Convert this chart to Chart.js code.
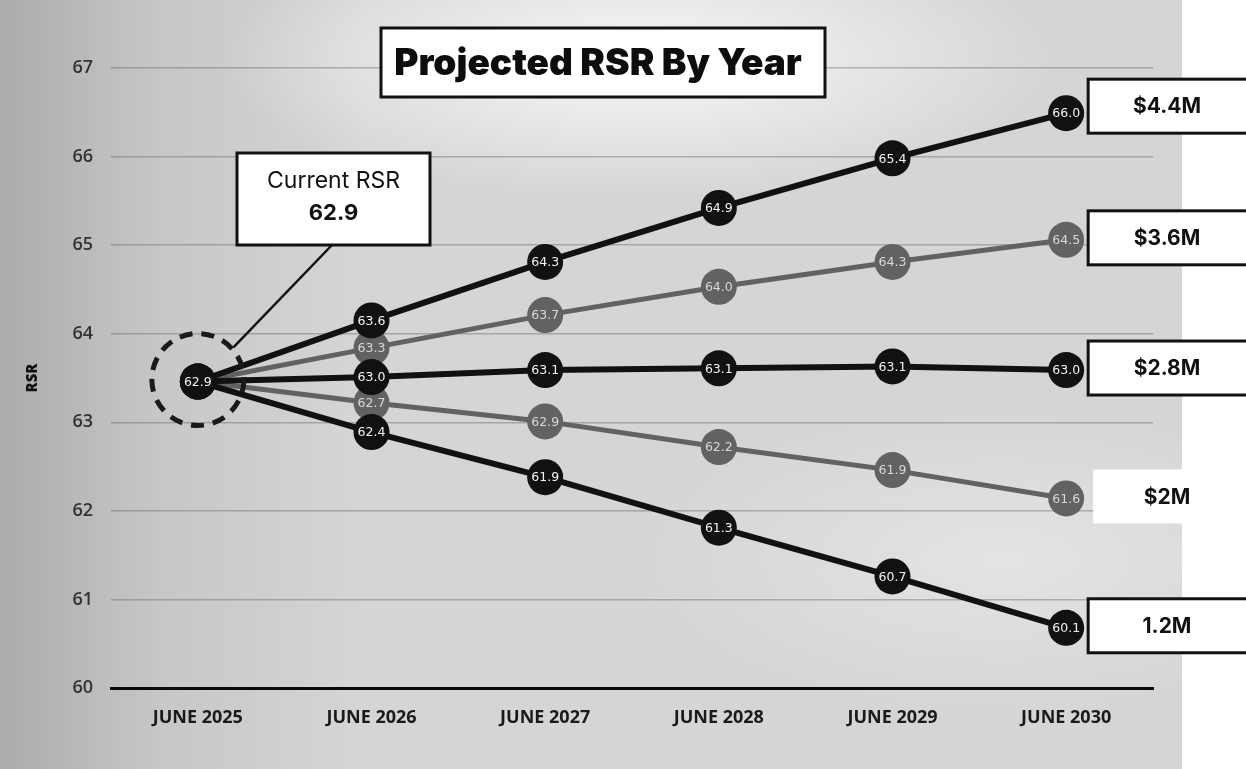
<!DOCTYPE html>
<html>
<head>
<meta charset="utf-8">
<script src="https://cdn.jsdelivr.net/npm/chart.js@4.4.1/dist/chart.umd.min.js"></script>
<style>
  html, body { margin: 0; padding: 0; }
  body {
    width: 1246px; height: 769px; overflow: hidden;
    background:
      linear-gradient(to right, rgba(0,0,0,0) 1182px, #ffffff 1182px),
      radial-gradient(ellipse 420px 140px at 640px 60px, rgba(255,255,255,0.85), rgba(255,255,255,0)),
      radial-gradient(ellipse 380px 160px at 1000px 560px, rgba(255,255,255,0.35), rgba(255,255,255,0)),
      linear-gradient(to right, rgba(120,120,120,0.45) 0px, rgba(120,120,120,0.15) 160px, rgba(120,120,120,0) 360px),
      #d5d5d5;
  }
  #wrap { position: absolute; left: 0; top: 0; width: 1246px; height: 769px; }
</style>
</head>
<body>
<div id="wrap"><canvas id="c" width="1246" height="769"></canvas></div>
<script>
// ---- data ----
const categories = ['JUNE 2025', 'JUNE 2026', 'JUNE 2027', 'JUNE 2028', 'JUNE 2029', 'JUNE 2030'];
const yTicks = [60, 61, 62, 63, 64, 65, 66, 67];
const seriesNames = ['$4.4M', '$3.6M', '$2.8M', '$2M', '1.2M'];

// plotted positions (read against the RSR axis)
const rsr44 = [63.46, 64.15, 64.81, 65.42, 65.98, 66.49];
const rsr36 = [63.46, 63.84, 64.21, 64.53, 64.81, 65.06];
const rsr28 = [63.46, 63.51, 63.59, 63.61, 63.63, 63.59];
const rsr20 = [63.46, 63.22, 63.01, 62.72, 62.46, 62.14];
const rsr12 = [63.46, 62.89, 62.38, 61.81, 61.26, 60.68];

// printed point labels
const lbl44 = ['62.9', '63.6', '64.3', '64.9', '65.4', '66.0'];
const lbl36 = ['62.9', '63.3', '63.7', '64.0', '64.3', '64.5'];
const lbl28 = ['62.9', '63.0', '63.1', '63.1', '63.1', '63.0'];
const lbl20 = ['62.9', '62.7', '62.9', '62.2', '61.9', '61.6'];
const lbl12 = ['62.9', '62.4', '61.9', '61.3', '60.7', '60.1'];

const currentTitle = 'Current RSR';
const currentValue = '62.9';
const chartTitle = 'Projected RSR By Year';
const axisTitle = 'RSR';

// ---- styles ----
const BLACK = '#111111';
const GREY = '#626262';

function mkSet(name, data, labels, color, width, order, textColor, boxed) {
  return {
    label: name, data: data, pointText: labels, textColor: textColor, boxed: boxed,
    borderColor: color, backgroundColor: color, borderWidth: width,
    pointBackgroundColor: color, pointBorderColor: color, pointBorderWidth: 0,
    pointRadius: 18, pointHoverRadius: 18, tension: 0, order: order
  };
}

const datasets = [
  mkSet(seriesNames[0], rsr44, lbl44, BLACK, 6, 0, '#f2f2f2', true),
  mkSet(seriesNames[1], rsr36, lbl36, GREY, 5, 1, '#d8d8d8', true),
  mkSet(seriesNames[2], rsr28, lbl28, BLACK, 6, 0, '#f2f2f2', true),
  mkSet(seriesNames[3], rsr20, lbl20, GREY, 5, 1, '#d8d8d8', false),
  mkSet(seriesNames[4], rsr12, lbl12, BLACK, 6, 0, '#f2f2f2', true)
];

const pointLabels = {
  id: 'pointLabels',
  afterDatasetDraw(chart, args) {
    const ds = chart.data.datasets[args.index];
    const ctx = chart.ctx;
    ctx.save();
    ctx.font = '12.5px "DejaVu Sans"';
    ctx.fillStyle = ds.textColor;
    ctx.textAlign = 'center';
    ctx.textBaseline = 'middle';
    args.meta.data.forEach((pt, i) => {
      if (i === 0 && args.index !== 0) return;
      ctx.fillText(ds.pointText[i], pt.x, pt.y + 1);
    });
    ctx.restore();
  }
};

function box(ctx, x, y, w, h, lw) {
  ctx.fillStyle = '#ffffff';
  ctx.fillRect(x, y, w, h);
  if (lw) {
    ctx.lineWidth = lw;
    ctx.strokeStyle = '#111';
    ctx.strokeRect(x, y, w, h);
  }
}

const annotations = {
  id: 'annotations',
  afterDraw(chart) {
    const ctx = chart.ctx;
    ctx.save();

    // dashed ring around the current point
    const p0 = chart.getDatasetMeta(0).data[0];
    const r = 46;
    ctx.beginPath();
    ctx.setLineDash([13, 9]);
    ctx.lineWidth = 5;
    ctx.strokeStyle = '#1a1a1a';
    ctx.arc(p0.x, p0.y - 2, r, 0, Math.PI * 2);
    ctx.stroke();
    ctx.setLineDash([]);

    // callout box
    const bx = 237, by = 153, bw = 193, bh = 92;
    ctx.beginPath();
    ctx.lineWidth = 2.5;
    ctx.strokeStyle = '#111';
    const a = -Math.PI / 4 + 0.05;
    ctx.moveTo(p0.x + Math.cos(a) * (r + 2), p0.y - 2 + Math.sin(a) * (r + 2));
    ctx.lineTo(bx + 95, by + bh);
    ctx.stroke();
    box(ctx, bx, by, bw, bh, 3);
    ctx.fillStyle = '#111';
    ctx.textAlign = 'center';
    ctx.textBaseline = 'middle';
    ctx.font = '400 23px Inter';
    ctx.fillText(currentTitle, bx + bw / 2, by + 28);
    ctx.font = '700 22px Inter';
    ctx.fillText(currentValue, bx + bw / 2, by + 60);

    // title box
    box(ctx, 381, 28, 444, 69, 3);
    ctx.fillStyle = '#0d0d0d';
    ctx.font = '900 37px Inter';
    ctx.fillText(chartTitle, 598, 64);

    // right-hand series tags
    chart.data.datasets.forEach((ds, i) => {
      const meta = chart.getDatasetMeta(i);
      const last = meta.data[meta.data.length - 1];
      const h = 54;
      const y = last.y - h / 2 - (i === 0 ? 7 : 2);
      const x = last.x + (ds.boxed ? 22 : 27);
      box(ctx, x, y, 1246 - x + 4, h, ds.boxed ? 3 : 0);
      ctx.fillStyle = '#111';
      ctx.font = '700 21px Inter';
      ctx.textAlign = 'center';
      ctx.fillText(ds.label, 1167, y + h / 2 + 1);
    });
    ctx.restore();
  }
};

new Chart(document.getElementById('c'), {
  type: 'line',
  data: { labels: categories, datasets: datasets },
  plugins: [pointLabels, annotations],
  options: {
    responsive: false,
    animation: false,
    layout: { padding: { left: 0, top: 68, right: 93, bottom: 0 } },
    plugins: { legend: { display: false }, tooltip: { enabled: false }, title: { display: false } },
    scales: {
      x: {
        offset: true,
        grid: { display: false, drawTicks: false },
        border: { display: true, color: '#0a0a0a', width: 3 },
        ticks: { color: '#1a1a1a', font: { family: 'Open Sans', weight: '700', size: 18 }, padding: 19 },
        afterFit(s) { s.height = 81; }
      },
      y: {
        min: yTicks[0],
        max: yTicks[yTicks.length - 1],
        afterBuildTicks(s) { s.ticks = yTicks.map(v => ({ value: v })); },
        grid: { color: 'rgba(95,95,95,0.4)', lineWidth: 1.5, drawTicks: false },
        border: { display: false },
        ticks: { color: '#333', font: { family: 'Open Sans', weight: '600', size: 18 }, padding: 18 },
        title: { display: true, text: axisTitle, color: '#111', font: { family: 'Open Sans', weight: '800', size: 15 }, padding: { top: 24, bottom: 0 } },
        afterFit(s) { s.width = 111; }
      }
    }
  }
});
</script>
</body>
</html>
